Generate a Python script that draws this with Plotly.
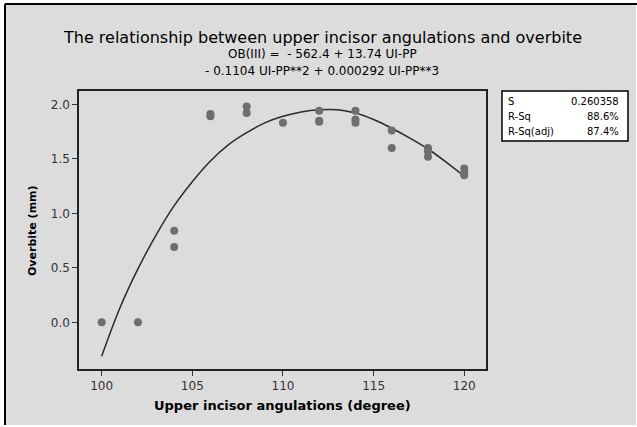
import plotly.graph_objects as go

angle = [100, 102, 104, 104, 106, 106, 108, 108, 110, 112, 112, 112,
         114, 114, 114, 116, 116, 118, 118, 118, 120, 120, 120]
overbite = [0.00, 0.00, 0.84, 0.69, 1.91, 1.89, 1.98, 1.92, 1.83, 1.94, 1.85, 1.84,
            1.94, 1.86, 1.83, 1.76, 1.60, 1.60, 1.57, 1.52, 1.41, 1.37, 1.35]

# Fitted cubic curve
fit_x = [100, 101, 102, 103, 104, 105, 106, 107, 108, 109, 110,
         111, 112, 113, 114, 115, 116, 117, 118, 119, 120]
fit_y = [-0.31, 0.13, 0.49, 0.80, 1.07, 1.29, 1.48, 1.63, 1.74, 1.83, 1.89,
         1.93, 1.95, 1.95, 1.92, 1.86, 1.78, 1.69, 1.59, 1.47, 1.34]

x_ticks = [100, 105, 110, 115, 120]
y_ticks = [0.0, 0.5, 1.0, 1.5, 2.0]

stat_names = ["S", "R-Sq", "R-Sq(adj)"]
stat_values = ["0.260358", "88.6%", "87.4%"]

FONT = "DejaVu Sans"
L, R, T, B = 79, 151, 91, 58
W, H = 637, 427
pw, ph = W - L - R, H - T - B

def px(xp):
    return (xp - L) / pw

def py(yp):
    return (H - B - yp) / ph

fig = go.Figure()
fig.add_trace(go.Scatter(x=fit_x, y=fit_y, mode="lines",
                         line=dict(color="#2a2a2a", width=1.5, shape="spline", smoothing=1.0),
                         hoverinfo="skip", showlegend=False))
fig.add_trace(go.Scatter(x=angle, y=overbite, mode="markers",
                         marker=dict(color="#6e6e6e", size=8),
                         showlegend=False))

shapes = [
    dict(type="rect", xref="paper", yref="paper", x0=px(5), x1=px(636), y0=py(425), y1=py(4),
         fillcolor="#dcdcdc", line=dict(width=0), layer="below"),
    dict(type="line", xref="paper", yref="paper", x0=px(5), x1=px(637), y0=py(4), y1=py(4),
         line=dict(color="black", width=2)),
    dict(type="line", xref="paper", yref="paper", x0=px(5), x1=px(5), y0=py(4), y1=py(425),
         line=dict(color="black", width=2)),
    dict(type="rect", xref="paper", yref="paper", x0=px(502), x1=px(628), y0=py(141), y1=py(91),
         fillcolor="white", line=dict(color="black", width=1.5)),
]

annotations = [
    dict(text="The relationship between upper incisor angulations and overbite",
         xref="paper", yref="paper", x=px(322), y=py(37), showarrow=False,
         font=dict(family=FONT, size=16, color="black"), xanchor="center", yanchor="middle"),
    dict(text="OB(III) =  - 562.4 + 13.74 UI-PP",
         xref="paper", yref="paper", x=px(322), y=py(54), showarrow=False,
         font=dict(family=FONT, size=12, color="black"), xanchor="center", yanchor="middle"),
    dict(text="- 0.1104 UI-PP**2 + 0.000292 UI-PP**3",
         xref="paper", yref="paper", x=px(322), y=py(71), showarrow=False,
         font=dict(family=FONT, size=12, color="black"), xanchor="center", yanchor="middle"),
    dict(text="<b>Upper incisor angulations (degree)</b>",
         xref="paper", yref="paper", x=px(282), y=py(405), showarrow=False,
         font=dict(family=FONT, size=13, color="black"), xanchor="center", yanchor="middle"),
    dict(text="<b>Overbite (mm)</b>", textangle=-90,
         xref="paper", yref="paper", x=px(32), y=py(231), showarrow=False,
         font=dict(family=FONT, size=11, color="black"), xanchor="center", yanchor="middle"),
]
row_y = [101, 116, 131]
for name, val, yy in zip(stat_names, stat_values, row_y):
    annotations.append(dict(text=name, xref="paper", yref="paper", x=px(506), y=py(yy),
                            showarrow=False, xanchor="left", yanchor="middle",
                            font=dict(family=FONT, size=10, color="black")))
    annotations.append(dict(text=val, xref="paper", yref="paper", x=px(621), y=py(yy),
                            showarrow=False, xanchor="right", yanchor="middle",
                            font=dict(family=FONT, size=10, color="black")))

fig.update_layout(
    width=W, height=H,
    margin=dict(l=L, r=R, t=T, b=B),
    paper_bgcolor="white",
    plot_bgcolor="white",
    shapes=shapes,
    annotations=annotations,
    font=dict(family=FONT, color="#333333"),
    xaxis=dict(range=[98.75, 121.2], tickvals=x_ticks, ticks="outside", ticklen=5,
               tickcolor="#333333", showline=True, linecolor="#222222", linewidth=1.5,
               mirror=True, showgrid=False, zeroline=False,
               tickfont=dict(family=FONT, size=12, color="#333333")),
    yaxis=dict(range=[-0.428, 2.122], tickvals=y_ticks, tickformat=".1f", ticks="outside",
               ticklen=5, tickcolor="#333333", showline=True, linecolor="#222222",
               linewidth=1.5, mirror=True, showgrid=False, zeroline=False,
               tickfont=dict(family=FONT, size=12, color="#333333")),
)

fig.write_html("out.html", config={"displayModeBar": False},
               post_script="document.body.style.margin='0';document.body.style.padding='0';")
